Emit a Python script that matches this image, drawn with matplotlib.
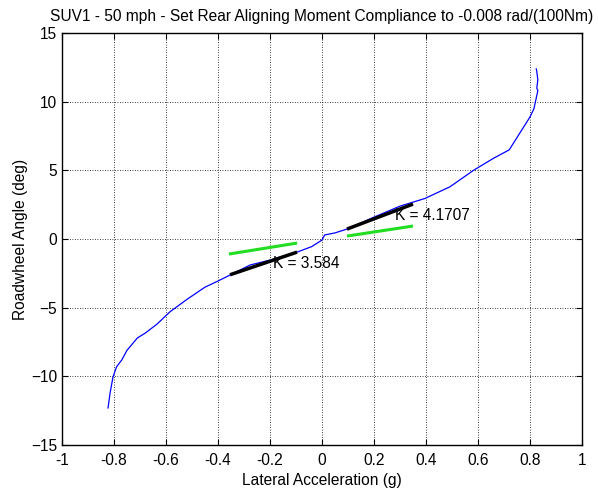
import matplotlib
matplotlib.use("Agg")
import matplotlib.pyplot as plt
import numpy as np

plt.rcParams["font.family"] = ["Liberation Sans", "DejaVu Sans"]

# measured curve: lateral acceleration (g) vs roadwheel angle (deg)
lat_acc = [-0.823, -0.815, -0.804, -0.79, -0.77, -0.75, -0.71, -0.68, -0.635,
           -0.585, -0.52, -0.45, -0.405, -0.354, -0.277, -0.2, -0.096, -0.04,
           0.0, 0.01, 0.05, 0.096, 0.2, 0.3, 0.396, 0.492, 0.582, 0.659, 0.72,
           0.76, 0.8, 0.815, 0.83, 0.826, 0.83, 0.826, 0.824]
rw_angle = [-12.3, -11.2, -10.05, -9.3, -8.8, -8.1, -7.2, -6.85, -6.2,
            -5.3, -4.4, -3.5, -3.1, -2.62, -1.89, -1.53, -0.95, -0.55,
            -0.07, 0.3, 0.45, 0.73, 1.6, 2.4, 2.96, 3.81, 5.0, 5.88, 6.5,
            7.7, 8.9, 9.5, 10.8, 11.0, 11.6, 12.2, 12.4]

# linear fits (black) and reference slopes (green)
fit_left_x = [-0.354, -0.096]
fit_left_y = [-2.6, -0.95]
fit_right_x = [0.096, 0.35]
fit_right_y = [0.73, 2.55]
ref_left_x = [-0.358, -0.096]
ref_left_y = [-1.09, -0.29]
ref_right_x = [0.096, 0.35]
ref_right_y = [0.22, 0.95]

labels = ["K = 3.584", "K = 4.1707"]
label_pos = [(-0.19, -1.75), (0.28, 1.75)]

FS = 11.2

fig = plt.figure(figsize=(5.98, 4.95), dpi=100)
ax = fig.add_axes([0.1037, 0.101, 0.8696, 0.832])

ax.plot(lat_acc, rw_angle, color="#0000ff", lw=0.9)
ax.plot(fit_left_x, fit_left_y, color="black", lw=2.5, solid_capstyle="butt")
ax.plot(fit_right_x, fit_right_y, color="black", lw=2.5, solid_capstyle="butt")
ax.plot(ref_left_x, ref_left_y, color="#22dd22", lw=2.2, solid_capstyle="butt")
ax.plot(ref_right_x, ref_right_y, color="#22dd22", lw=2.2, solid_capstyle="butt")

for txt, (tx, ty) in zip(labels, label_pos):
    ax.text(tx, ty, txt, fontsize=FS, va="center", ha="left")

ax.set_xlim(-1, 1)
ax.set_ylim(-15, 15)
ax.set_xticks(np.arange(-1, 1.01, 0.2))
ax.set_xticklabels(["-1", "-0.8", "-0.6", "-0.4", "-0.2", "0", "0.2", "0.4", "0.6", "0.8", "1"])
ax.set_yticks(np.arange(-15, 16, 5))
ax.tick_params(direction="in", length=4, labelsize=FS, top=True, right=True)
ax.tick_params(axis="x", pad=6)
ax.grid(True, color="black", linestyle=(0, (1, 2)), lw=0.6)
for s in ax.spines.values():
    s.set_linewidth(1.0)

ax.set_xlabel("Lateral Acceleration (g)", fontsize=FS, labelpad=3)
ax.set_ylabel("Roadwheel Angle (deg)", fontsize=FS, labelpad=2)
ax.set_title("SUV1 - 50 mph - Set Rear Aligning Moment Compliance to -0.008 rad/(100Nm)",
             fontsize=FS, pad=9)

fig.savefig("out.png", dpi=100)
